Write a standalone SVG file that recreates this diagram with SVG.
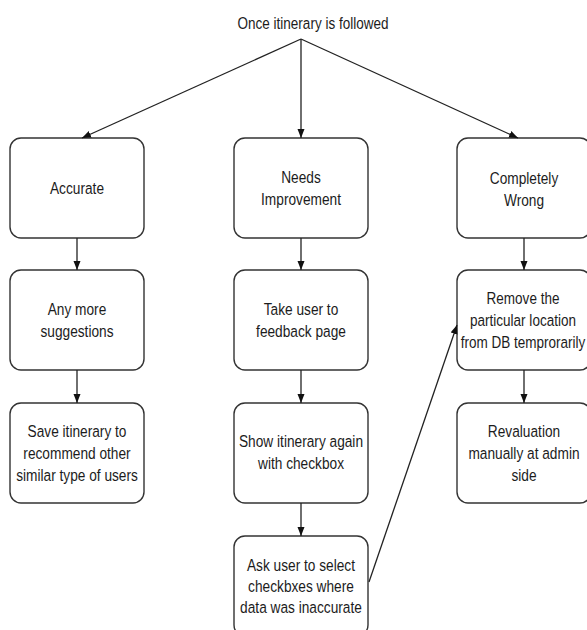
<svg xmlns="http://www.w3.org/2000/svg" width="587" height="630" viewBox="0 0 587 630">
<defs>
<marker id="ah" markerWidth="10" markerHeight="8" refX="9" refY="4" orient="auto" markerUnits="userSpaceOnUse">
<path d="M0,0.5 L9,4 L0,7.5 Z" fill="#111"/>
</marker>
<style>
.box{fill:#fff;stroke:#333;stroke-width:1.4}
text{font-family:"Liberation Sans",Arial,sans-serif;font-size:16.5px;fill:#1c1c1c;text-anchor:middle}
.c{stroke:#222;stroke-width:1.3;fill:none;marker-end:url(#ah)}
</style>
</defs>
<rect width="587" height="630" fill="#fff"/>
<g id="title"><g transform="translate(313 0) scale(0.82 1)"><text x="0" y="29">Once itinerary is followed</text></g></g>

<g id="accurate"><rect class="box" x="10" y="138" width="134" height="100" rx="11"/><g transform="translate(77 0) scale(0.83 1)"><text x="0" y="194">Accurate</text></g></g>
<g id="needs-improvement"><rect class="box" x="234" y="138" width="134" height="100" rx="11"/><g transform="translate(301 0) scale(0.83 1)"><text x="0" y="183">Needs</text><text x="0" y="205">Improvement</text></g></g>
<g id="completely-wrong"><rect class="box" x="457" y="138" width="134" height="100" rx="11"/><g transform="translate(524 0) scale(0.83 1)"><text x="0" y="184">Completely</text><text x="0" y="206">Wrong</text></g></g>

<g id="more-suggestions"><rect class="box" x="10" y="270" width="134" height="100" rx="11"/><g transform="translate(77 0) scale(0.83 1)"><text x="0" y="315">Any more</text><text x="0" y="337">suggestions</text></g></g>
<g id="feedback-page"><rect class="box" x="234" y="270" width="134" height="100" rx="11"/><g transform="translate(301 0) scale(0.83 1)"><text x="0" y="315">Take user to</text><text x="0" y="337">feedback page</text></g></g>
<g id="remove-location"><rect class="box" x="457" y="270" width="134" height="100" rx="11"/><g transform="translate(523 0) scale(0.82 1)"><text x="0" y="304">Remove the</text><text x="0" y="326">particular location</text><text x="0" y="348">from DB temprorarily</text></g></g>

<g id="save-itinerary"><rect class="box" x="10" y="403" width="134" height="100" rx="11"/><g transform="translate(77 0) scale(0.83 1)"><text x="0" y="437">Save itinerary to</text><text x="0" y="459">recommend other</text><text x="0" y="481">similar type of users</text></g></g>
<g id="show-itinerary"><rect class="box" x="234" y="403" width="134" height="100" rx="11"/><g transform="translate(301 0) scale(0.83 1)"><text x="0" y="447">Show itinerary again</text><text x="0" y="469">with checkbox</text></g></g>
<g id="revaluation"><rect class="box" x="457" y="403" width="134" height="100" rx="11"/><g transform="translate(524 0) scale(0.83 1)"><text x="0" y="437">Revaluation</text><text x="0" y="459">manually at admin</text><text x="0" y="481">side</text></g></g>

<g id="ask-user"><rect class="box" x="234" y="536" width="134" height="100" rx="11"/><g transform="translate(301 0) scale(0.83 1)"><text x="0" y="571">Ask user to select</text><text x="0" y="592">checkbxes where</text><text x="0" y="613">data was inaccurate</text></g></g>

<g id="connectors">
<line class="c" x1="301" y1="39" x2="82" y2="138"/>
<line class="c" x1="301" y1="39" x2="301" y2="138"/>
<line class="c" x1="301" y1="39" x2="518" y2="138"/>
<line class="c" x1="77" y1="238" x2="77" y2="270"/>
<line class="c" x1="301" y1="238" x2="301" y2="270"/>
<line class="c" x1="524" y1="238" x2="524" y2="270"/>
<line class="c" x1="77" y1="370" x2="77" y2="403"/>
<line class="c" x1="301" y1="370" x2="301" y2="403"/>
<line class="c" x1="524" y1="370" x2="524" y2="403"/>
<line class="c" x1="301" y1="503" x2="301" y2="536"/>
<line class="c" x1="369" y1="582" x2="457" y2="325"/>
</g>
</svg>
